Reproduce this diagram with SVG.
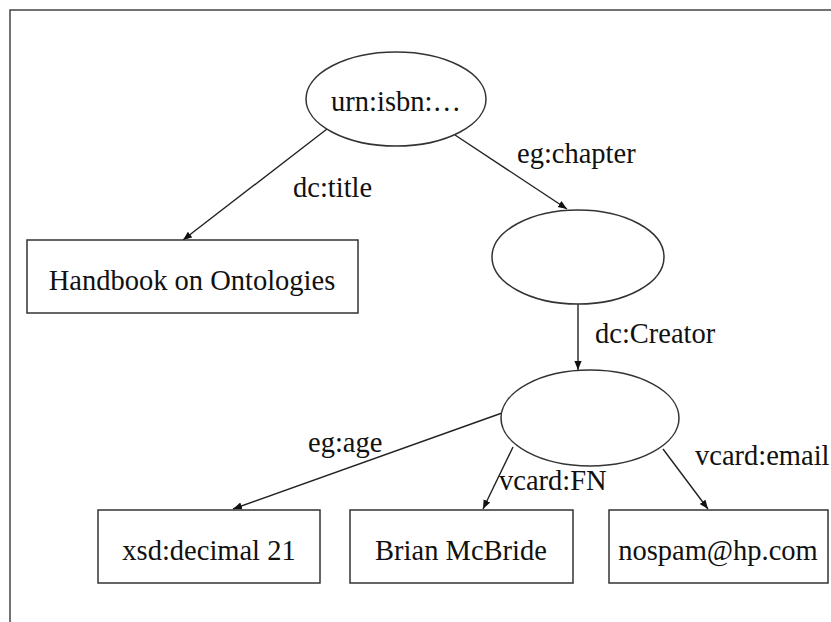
<svg xmlns="http://www.w3.org/2000/svg" width="831" height="622" viewBox="0 0 831 622">
<defs>
<marker id="ah" viewBox="0 0 10 10" refX="10" refY="5" markerWidth="9" markerHeight="9" markerUnits="userSpaceOnUse" orient="auto">
<path d="M0,1 L10,5 L0,9 Z" fill="#111"/>
</marker>
<style>
.n{fill:#fff;stroke:#333;stroke-width:1.5}
.t{font-family:"Liberation Serif","Times New Roman",serif;font-size:28.5px;fill:#111}
.e{stroke:#222;stroke-width:1.4;fill:none;marker-end:url(#ah)}
.f{fill:none;stroke:#444;stroke-width:1.5}
</style>
</defs>
<rect width="831" height="622" fill="#fff"/>
<path class="f" d="M10,622 L10,10 L831,10"/>
<g id="connectors">
<line class="e" x1="327" y1="129" x2="183" y2="240"/>
<line class="e" x1="455" y1="135" x2="567" y2="209"/>
<line class="e" x1="578" y1="304" x2="578" y2="370"/>
<line class="e" x1="502" y1="413" x2="233" y2="509"/>
<line class="e" x1="513" y1="447" x2="483" y2="509"/>
<line class="e" x1="663" y1="449" x2="708" y2="509"/>
<text class="t" x="293" y="197">dc:title</text>
<text class="t" x="517" y="163">eg:chapter</text>
<text class="t" x="595" y="343">dc:Creator</text>
<text class="t" x="308" y="452">eg:age</text>
<text class="t" x="499" y="490">vcard:FN</text>
<text class="t" x="695" y="465">vcard:email</text>
</g>
<g id="urn">
<ellipse class="n" cx="396" cy="99" rx="90" ry="47"/>
<text class="t" x="396" y="111" text-anchor="middle">urn:isbn:…</text>
</g>
<g id="title">
<rect class="n" x="27" y="240" width="331" height="73"/>
<text class="t" x="192" y="290" text-anchor="middle">Handbook on Ontologies</text>
</g>
<g id="chapter">
<ellipse class="n" cx="578" cy="257" rx="86" ry="47"/>
</g>
<g id="creator">
<ellipse class="n" cx="590" cy="418" rx="89" ry="48"/>
</g>
<g id="age">
<rect class="n" x="98" y="510" width="222" height="73"/>
<text class="t" x="209" y="560" text-anchor="middle">xsd:decimal 21</text>
</g>
<g id="fn">
<rect class="n" x="350" y="510" width="223" height="73"/>
<text class="t" x="461" y="560" text-anchor="middle">Brian McBride</text>
</g>
<g id="email">
<rect class="n" x="609" y="510" width="219" height="73"/>
<text class="t" x="718" y="560" text-anchor="middle">nospam@hp.com</text>
</g>
</svg>
